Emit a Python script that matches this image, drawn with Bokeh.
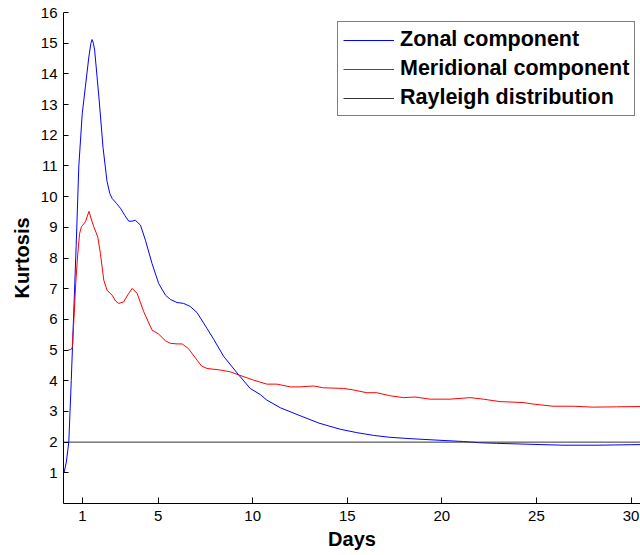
from bokeh.plotting import figure
from bokeh.models import Range1d, FixedTicker, Legend, LegendItem
from bokeh.embed import file_html
from bokeh.resources import INLINE

# ---- data ----
zonal_days = [0.03, 0.15, 0.28, 0.41, 0.54, 0.67, 0.81, 0.99, 1.16, 1.34, 1.45, 1.51, 1.58, 1.65,
              1.87, 2.09, 2.30, 2.45, 2.57, 2.80, 3.01, 3.25, 3.45, 3.62, 3.80, 4.07, 4.33, 4.68,
              5.03, 5.39, 5.65, 6.00, 6.35, 6.70, 7.06, 7.59, 7.94, 8.46, 9.26, 9.87, 10.40,
              10.75, 11.46, 12.51, 13.50, 14.63, 15.50, 16.38, 17.20, 18.15, 19.00, 19.90,
              21.14, 22.00, 22.90, 24.66, 26.40, 28.20, 30.50]
zonal_kurt = [1.00, 1.35, 2.00, 4.00, 6.20, 8.40, 11.00, 12.70, 13.60, 14.55, 15.00, 15.12, 15.00,
              14.75, 13.25, 11.60, 10.50, 10.10, 9.94, 9.78, 9.62, 9.38, 9.20, 9.20, 9.23, 9.07,
              8.58, 7.82, 7.17, 6.79, 6.65, 6.55, 6.52, 6.42, 6.22, 5.70, 5.35, 4.80, 4.19, 3.75,
              3.55, 3.37, 3.12, 2.86, 2.62, 2.42, 2.31, 2.22, 2.16, 2.12, 2.09, 2.06, 2.02, 1.98,
              1.96, 1.93, 1.90, 1.90, 1.92]

merid_days = [0.25, 0.40, 0.47, 0.55, 0.65, 0.75, 0.85, 0.95, 1.16, 1.28, 1.35, 1.45, 1.60, 1.81,
              1.95, 2.13, 2.30, 2.57, 2.75, 2.92, 3.18, 3.40, 3.63, 3.89, 4.24, 4.68, 5.03, 5.39,
              5.65, 6.00, 6.27, 6.60, 7.06, 7.30, 7.59, 8.29, 8.82, 9.26, 10.05, 10.75, 11.28,
              11.99, 12.50, 13.22, 13.74, 14.80, 15.33, 16.03, 16.56, 17.27, 17.97, 18.59, 19.38,
              20.43, 21.49, 22.19, 23.07, 24.30, 24.83, 25.88, 26.94, 28.00, 29.23, 30.50]
merid_kurt = [5.00, 5.02, 5.10, 6.00, 7.20, 8.10, 8.80, 9.02, 9.18, 9.40, 9.52, 9.30, 9.02, 8.69,
              8.15, 7.28, 6.95, 6.79, 6.60, 6.52, 6.57, 6.80, 7.01, 6.85, 6.25, 5.65, 5.52, 5.30,
              5.22, 5.20, 5.20, 5.05, 4.67, 4.48, 4.40, 4.35, 4.29, 4.19, 4.02, 3.89, 3.89, 3.80,
              3.80, 3.83, 3.77, 3.75, 3.70, 3.61, 3.61, 3.51, 3.45, 3.47, 3.40, 3.40, 3.45, 3.40,
              3.32, 3.29, 3.24, 3.17, 3.17, 3.14, 3.15, 3.16]

rayleigh_days = [0.0, 30.5]
rayleigh_kurt = [2.0, 2.0]

x_ticks = [1, 5, 10, 15, 20, 25, 30]
y_ticks = list(range(1, 17))

FONT = "Liberation Sans"

p = figure(width=640, height=555, output_backend="svg", toolbar_location=None,
           x_range=Range1d(0, 30.5), y_range=Range1d(0, 16),
           min_border_left=63, min_border_right=0, min_border_top=12, min_border_bottom=52)
p.outline_line_color = None
p.xgrid.visible = False
p.ygrid.visible = False
p.background_fill_color = "white"
p.border_fill_color = "white"

r_z = p.line(zonal_days, zonal_kurt, line_color="#0000ff", line_width=1)
r_m = p.line(merid_days, merid_kurt, line_color="#ff0000", line_width=1)
r_r = p.line(rayleigh_days, rayleigh_kurt, line_color="#333333", line_width=1)

for ax in (p.xaxis[0], p.yaxis[0]):
    ax.major_tick_out = 0
    ax.minor_tick_in = 0
    ax.minor_tick_out = 0
    ax.axis_line_color = "black"
    ax.major_tick_line_color = "black"
    ax.major_label_text_font = FONT
    ax.major_label_text_font_size = "15px"
    ax.major_label_text_color = "black"
    ax.axis_label_text_font = FONT
    ax.axis_label_text_font_size = "20px"
    ax.axis_label_text_font_style = "bold"
    ax.axis_label_text_color = "black"

p.xaxis.ticker = FixedTicker(ticks=x_ticks)
p.yaxis.ticker = FixedTicker(ticks=y_ticks)
p.xaxis.major_tick_in = 6
p.yaxis.major_tick_in = 5
p.xaxis.axis_label = "Days"
p.yaxis.axis_label = "Kurtosis"
p.xaxis.major_label_standoff = 7
p.xaxis.axis_label_standoff = 4
p.yaxis.major_label_standoff = 6
p.yaxis.axis_label_standoff = 5

legend = Legend(items=[LegendItem(label="Zonal component", renderers=[r_z]),
                       LegendItem(label="Meridional component", renderers=[r_m]),
                       LegendItem(label="Rayleigh distribution", renderers=[r_r])],
                location=(274, 387))
legend.border_line_color = "black"
legend.border_line_width = 1
legend.background_fill_alpha = 1
legend.label_text_font = FONT
legend.label_text_font_size = "21.5px"
legend.label_text_font_style = "bold"
legend.label_text_color = "black"
legend.glyph_width = 51
legend.glyph_height = 22
legend.label_height = 22
legend.label_standoff = 6
legend.padding = 5
legend.spacing = 4
legend.margin = 0
p.add_layout(legend)

open("out.html", "w").write(file_html(p, INLINE))
